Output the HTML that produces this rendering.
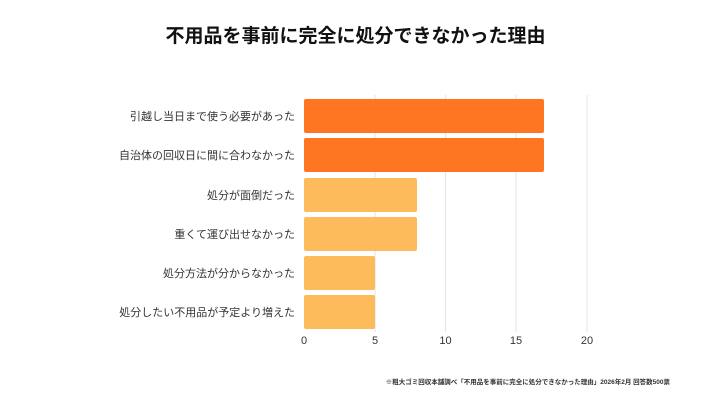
<!DOCTYPE html>
<html><head><meta charset="utf-8"><style>
body{margin:0;width:711px;height:400px;background:#fff;overflow:hidden;font-family:"Liberation Sans","Noto Sans CJK JP",sans-serif;}
</style></head><body>
<svg width="711" height="400" xmlns="http://www.w3.org/2000/svg" font-family="Liberation Sans, Noto Sans CJK JP, sans-serif">
<text x="355.5" y="42" text-anchor="middle" font-size="19" font-weight="bold" fill="#111">不用品を事前に完全に処分できなかった理由</text>
<g stroke="#e3e3e3" stroke-width="1">
<line x1="375" y1="95" x2="375" y2="332"/><line x1="445.5" y1="95" x2="445.5" y2="332"/><line x1="516" y1="95" x2="516" y2="332"/><line x1="587" y1="95" x2="587" y2="332"/>
</g>
<g>
<rect x="304" y="99" width="240" height="34" rx="2" fill="#fe7621"/>
<rect x="304" y="138" width="240" height="34" rx="2" fill="#fe7621"/>
<rect x="304" y="178" width="113" height="34" rx="2" fill="#fdbb5c"/>
<rect x="304" y="217" width="113" height="34" rx="2" fill="#fdbb5c"/>
<rect x="304" y="256" width="71" height="34" rx="2" fill="#fdbb5c"/>
<rect x="304" y="295" width="71" height="34" rx="2" fill="#fdbb5c"/>
</g>
<g font-size="11" fill="#333" text-anchor="end">
<text x="295" y="120">引越し当日まで使う必要があった</text>
<text x="295" y="159">自治体の回収日に間に合わなかった</text>
<text x="295" y="199">処分が面倒だった</text>
<text x="295" y="238">重くて運び出せなかった</text>
<text x="295" y="277">処分方法が分からなかった</text>
<text x="295" y="316">処分したい不用品が予定より増えた</text>
</g>
<g font-size="11" fill="#333" text-anchor="middle">
<text x="304" y="344">0</text><text x="375" y="344">5</text><text x="445.5" y="344">10</text><text x="516" y="344">15</text><text x="587" y="344">20</text>
</g>
<text x="670" y="384" text-anchor="end" font-size="6.5" font-weight="bold" fill="#333">※粗大ゴミ回収本舗調べ「不用品を事前に完全に処分できなかった理由」2026年2月 回答数500票</text>
</svg>
</body></html>
